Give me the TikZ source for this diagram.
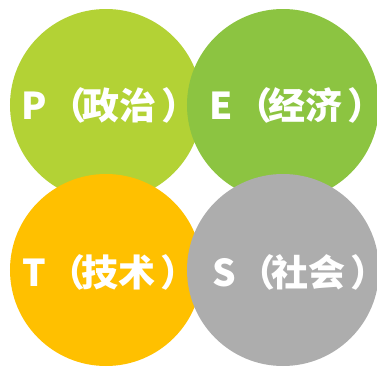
\documentclass[tikz,border=0pt]{standalone}
\usepackage{fontspec}
\newfontfamily\cjk{Noto Sans CJK SC}
\definecolor{cP}{HTML}{B3D235}
\definecolor{cE}{HTML}{8CC441}
\definecolor{cT}{HTML}{FFC000}
\definecolor{cS}{HTML}{ADADAD}
\newcommand{\lp}{\kern3bp（\kern-4bp}
\newcommand{\rp}{\kern5bp）\kern-20bp}
\tikzset{
  disc/.style={fill=#1, draw=none},
  lbl/.style={text=white, inner sep=0pt, anchor=west, font=\cjk\bfseries\fontsize{37bp}{42bp}\selectfont}
}
\begin{document}
\begin{tikzpicture}[x=1bp,y=-1bp]
\useasboundingbox (0,0) rectangle (377,367);
\begin{scope}
\clip (0,0) rectangle (377,367);
\fill[disc=cP] (106,105) circle (96bp);
\fill[disc=cE] (283,105) circle (96bp);
\fill[disc=cT] (106,270) circle (96bp);
\fill[disc=cS] (283,270) circle (96bp);
\end{scope}
\node[lbl] (p) at (21,105) {P\lp 政治\rp};
\node[lbl] (e) at (209,105) {E\lp 经济\rp};
\node[lbl] (t) at (22,272) {T\lp 技术\rp};
\node[lbl] (s) at (212,272) {S\lp 社会\rp};
\end{tikzpicture}
\end{document}
